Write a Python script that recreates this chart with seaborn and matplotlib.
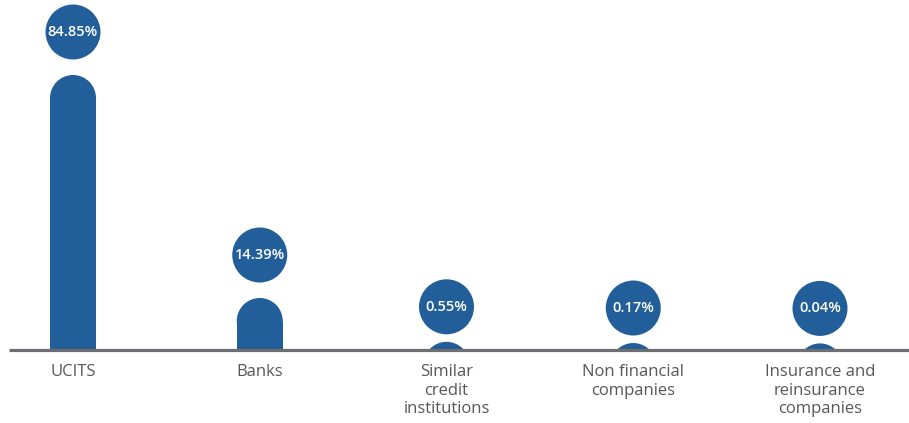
import matplotlib
matplotlib.use("Agg")
import matplotlib.pyplot as plt
from matplotlib.patches import Ellipse
import seaborn as sns
import pandas as pd

# ---- data ----
categories = ["UCITS", "Banks", "Similar credit institutions",
              "Non financial companies", "Insurance and reinsurance companies"]
tick_labels = ["UCITS", "Banks", "Similar\ncredit\ninstitutions",
               "Non financial\ncompanies", "Insurance and\nreinsurance\ncompanies"]
values = [84.85, 14.39, 0.55, 0.17, 0.04]
value_labels = ["84.85%", "14.39%", "0.55%", "0.17%", "0.04%"]

# ---- style ----
BLUE = "#225e99"
GREY_LINE = "#6d6e71"
GREY_TEXT = "#555759"
W, H = 909, 423
BASE_PX = 350          # baseline from top (px)
K = 3.165              # px per percentage point
CAP_OFF = 6.45         # px extra of rounded cap
CAP_R = 23             # px radius of bar cap
CIRC_D = 55            # px diameter of label bubble
X0_PX, DX_PX = 73, 186.75

sns.set_theme(style="white")
plt.rcParams["font.family"] = ["Open Sans", "DejaVu Sans"]

fig = plt.figure(figsize=(W / 100, H / 100), dpi=100)
ax = fig.add_axes([0, (H - BASE_PX) / H, 1, BASE_PX / H])

df = pd.DataFrame({"category": categories, "value": values})
bar_w = 46 / DX_PX
sns.barplot(data=df, x="category", y="value", color=BLUE, width=bar_w,
            saturation=1, ax=ax)

xmin = -X0_PX / DX_PX
xmax = xmin + W / DX_PX
ax.set_xlim(xmin, xmax)
ax.set_ylim(0, BASE_PX / K)

px_y = 1.0 / K          # data units per px (y)
px_x = 1.0 / DX_PX      # data units per px (x)

for patch, v, lab in zip(ax.patches, values, value_labels):
    x = patch.get_x()
    w = patch.get_width()
    xc = x + w / 2
    top = v + CAP_OFF * px_y
    cap_c = top - CAP_R * px_y
    patch.set_height(max(cap_c, 0))
    patch.set_edgecolor("none")
    cap = Ellipse((xc, cap_c), w, 2 * CAP_R * px_y, facecolor=BLUE,
                  edgecolor="none")
    ax.add_patch(cap)
    top_px = top / px_y
    gap = 43 if top_px > 30 else 35
    cy = top + gap * px_y
    bubble = Ellipse((xc, cy), CIRC_D * px_x, CIRC_D * px_y, facecolor=BLUE,
                     edgecolor="none", clip_on=False, zorder=3)
    ax.add_patch(bubble)
    ax.text(xc, cy, lab, ha="center", va="center", color="white",
            fontsize=10.5, fontweight="semibold", zorder=4)

# baseline
ax.plot([xmin + 9 * px_x, xmax], [0, 0], color=GREY_LINE, lw=2.3,
        clip_on=False, solid_capstyle="butt", zorder=5)

for s in ax.spines.values():
    s.set_visible(False)
ax.set_yticks([])
ax.set_xlabel("")
ax.set_ylabel("")
ax.set_xticks(range(len(categories)))
ax.set_xticklabels(tick_labels, fontsize=12, color=GREY_TEXT, linespacing=1.22)
for t in ax.get_xticklabels():
    t.set_multialignment("center")
ax.tick_params(axis="x", length=0, pad=10)
ax.grid(False)

fig.savefig("out.png", dpi=100, facecolor="white")
